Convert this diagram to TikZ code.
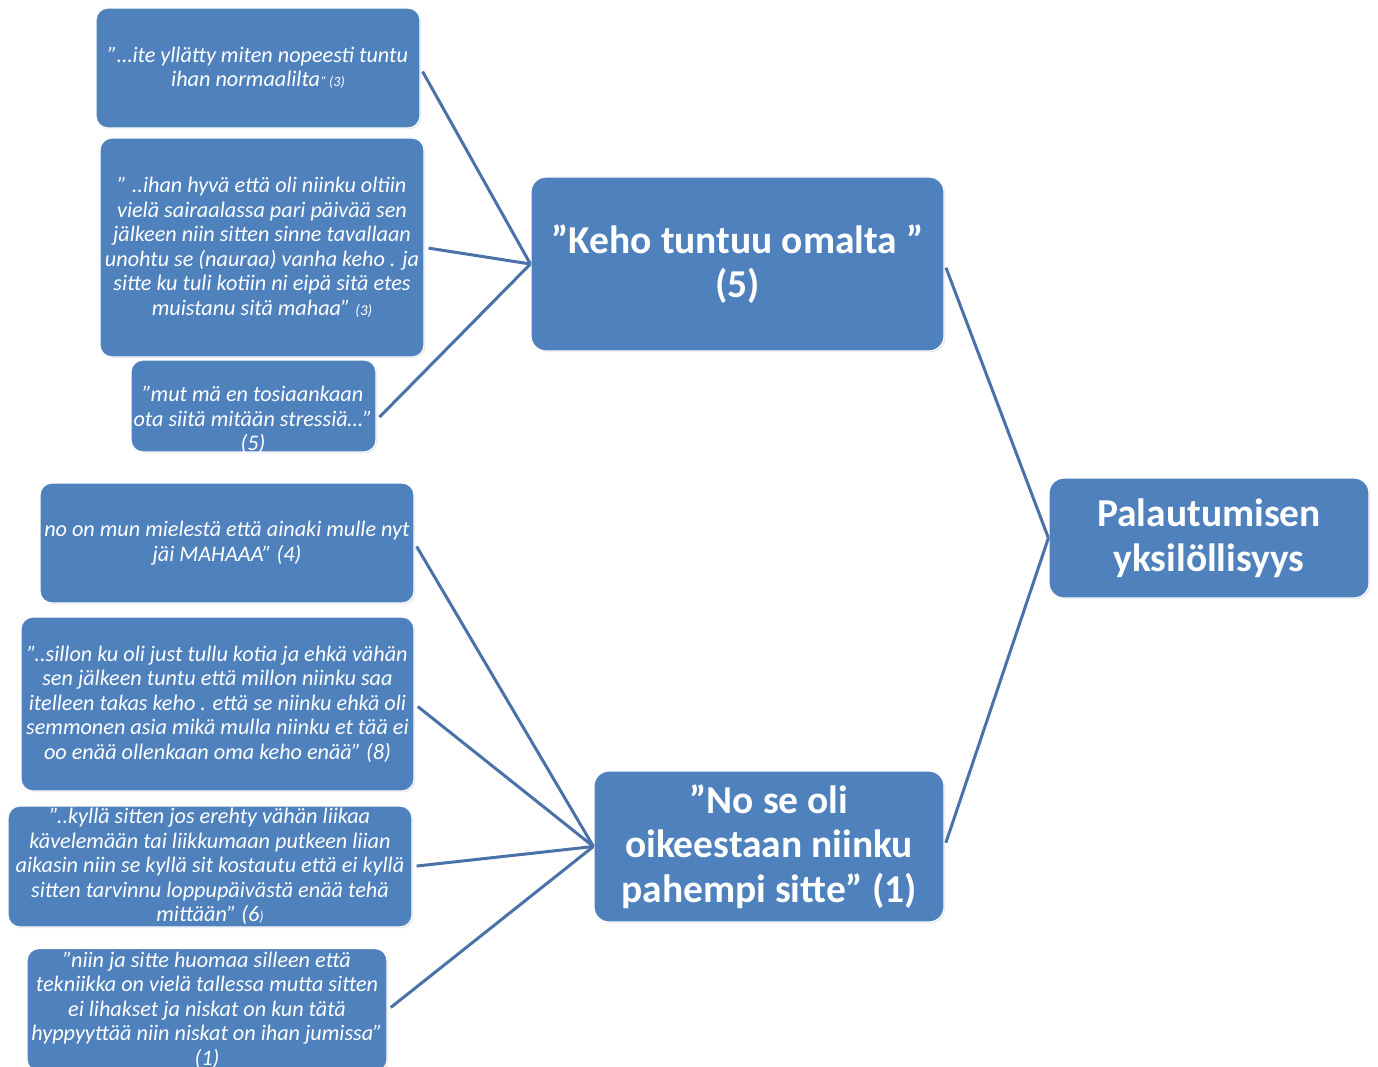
\documentclass[tikz,border=0pt]{standalone}
\usepackage{fontspec}
\setmainfont{Carlito}
\usepackage{tikz}
\usetikzlibrary{positioning,calc,shadows}
\definecolor{boxblue}{RGB}{79,129,189}
\definecolor{linkblue}{RGB}{74,114,168}
\begin{document}
\begin{tikzpicture}[x=1pt,y=-1pt,
	box/.style={fill=boxblue,draw=white,line width=1.2pt,rounded corners=12pt,
		drop shadow={shadow xshift=1.2pt,shadow yshift=-1.2pt,opacity=0.25},
		text=white,align=center,inner xsep=2pt,inner ysep=0pt},
	leaf/.style={box,font=\fontsize{22.2}{24.5}\selectfont\itshape},
	theme/.style={box,rounded corners=15pt,font=\fontsize{39.5}{44.5}\selectfont\bfseries},
	link/.style={draw=linkblue,line width=3pt,shorten <=4pt}]
	\useasboundingbox (0,0) rectangle (1378,1067);
	% left column of quotations
	\node[leaf,minimum width=324pt,minimum height=120pt] (q1) at (258,68)
		{”…ite yllätty miten nopeesti tuntu\\ihan normaalilta{\fontsize{14}{14}\selectfont“ (3)}};
	\node[leaf,minimum width=324pt,minimum height=219pt] (q2) at (262,247.5)
		{” ..ihan hyvä että oli niinku oltiin\\vielä sairaalassa pari päivää sen\\jälkeen niin sitten sinne tavallaan\\unohtu se (nauraa) vanha keho . ja\\sitte ku tuli kotiin ni eipä sitä etes\\muistanu sitä mahaa” {\fontsize{15}{15}\selectfont(3)}};
	\node[leaf,minimum width=245pt,minimum height=92pt] (q3) at (253.5,406) {};
	\node[text=white,align=center,inner sep=0pt,font=\fontsize{22.2}{24.5}\selectfont\itshape] (q3t) at (253,420)
		{”mut mä en tosiaankaan\\ota siitä mitään stressiä…”\\(5)};
	\node[leaf,minimum width=374pt,minimum height=120pt] (q4) at (227,543)
		{no on mun mielestä että ainaki mulle nyt\\jäi MAHAAA” (4)};
	\node[leaf,minimum width=393pt,minimum height=174pt] (q5) at (217.5,704)
		{"..sillon ku oli just tullu kotia ja ehkä vähän\\sen jälkeen tuntu että millon niinku saa\\itelleen takas keho . että se niinku ehkä oli\\semmonen asia mikä mulla niinku et tää ei\\oo enää ollenkaan oma keho enää” (8)};
	\node[leaf,minimum width=404pt,minimum height=121pt] (q6) at (210,866.5)
		{”..kyllä sitten jos erehty vähän liikaa\\kävelemään tai liikkumaan putkeen liian\\aikasin niin se kyllä sit kostautu että ei kyllä\\sitten tarvinnu loppupäivästä enää tehä\\mittään” (6{\fontsize{14}{14}\selectfont)}};
	\node[leaf,minimum width=360pt,minimum height=123pt] (q7) at (207,1010)
		{”niin ja sitte huomaa silleen että\\tekniikka on vielä tallessa mutta sitten\\ei lihakset ja niskat on kun tätä\\hyppyyttää niin niskat on ihan jumissa”\\(1)};
	% themes
	\node[theme,minimum width=413pt,minimum height=174pt] (keho) at (737.5,264)
		{”Keho tuntuu omalta ”\\(5)};
	\node[theme,minimum width=350pt,minimum height=151pt] (pahempi) at (769,846.5)
		{”No se oli\\oikeestaan niinku\\pahempi sitte” (1)};
	\node[theme,minimum width=320pt,minimum height=120pt] (palautus) at (1209,538)
		{Palautumisen\\yksilöllisyys};
	% connectors
	\draw[link] (q1.east) -- (keho.west);
	\draw[link] (q2.east) -- (keho.west);
	\draw[link] (q3.east |- q3t) -- (keho.west);
	\draw[link] (q4.east) -- (pahempi.west);
	\draw[link] (q5.east) -- (pahempi.west);
	\draw[link] (q6.east) -- (pahempi.west);
	\draw[link] (q7.east) -- (pahempi.west);
	\draw[link] (keho.east) -- (palautus.west);
	\draw[link] (pahempi.east) -- (palautus.west);
\end{tikzpicture}
\end{document}
